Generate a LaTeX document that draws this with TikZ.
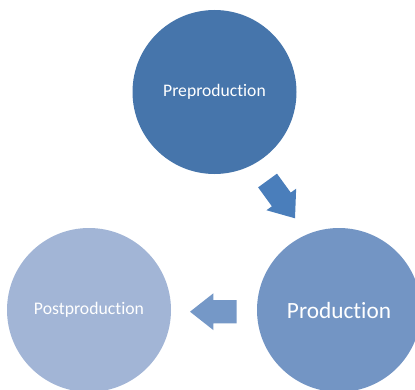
\documentclass[tikz,border=0pt]{standalone}
\usepackage{fontspec}
\setmainfont{Carlito}[Ligatures=NoCommon]
\usepackage{tikz}

\definecolor{preblue}{RGB}{70,117,171}
\definecolor{problue}{RGB}{115,149,196}
\definecolor{postblue}{RGB}{162,181,214}
\definecolor{arrowdark}{RGB}{74,126,187}
\definecolor{arrowlight}{RGB}{117,152,199}

\begin{document}
\begin{tikzpicture}
		[x=1pt, y=1pt,
		phase/.style={circle, fill=#1, draw=none, minimum size=164pt, inner sep=0pt, text=white},
		flow/.style={fill=#1, draw=none}]
		\useasboundingbox (0,0) rectangle (415,389);
		\clip (0,0) rectangle (415,389);

		\node[phase=preblue] (pre) at (214.5,297) {\fontsize{17.6}{20}\selectfont Preproduction};
		\node[phase=problue] (prod) at (339,79) {\fontsize{23.3}{26}\selectfont Production};
		\node[phase=postblue] (post) at (89,79) {\fontsize{17.7}{20}\selectfont Postproduction};

		% block arrows, tip at the local origin, pointing along +x
		\fill[flow=arrowdark, shift={(295,170.7)}, rotate=-54]
			(0,0) -- (-23.3,18.35) -- (-23.3,11.65) -- (-46.7,11.65)
			-- (-46.7,-11.65) -- (-23.3,-11.65) -- (-23.3,-18.35) -- cycle;
		\fill[flow=arrowlight, shift={(190,77.3)}, rotate=180]
			(0,0) -- (-23.3,18.35) -- (-23.3,11.65) -- (-46.7,11.65)
			-- (-46.7,-11.65) -- (-23.3,-11.65) -- (-23.3,-18.35) -- cycle;
	\end{tikzpicture}
\end{document}
